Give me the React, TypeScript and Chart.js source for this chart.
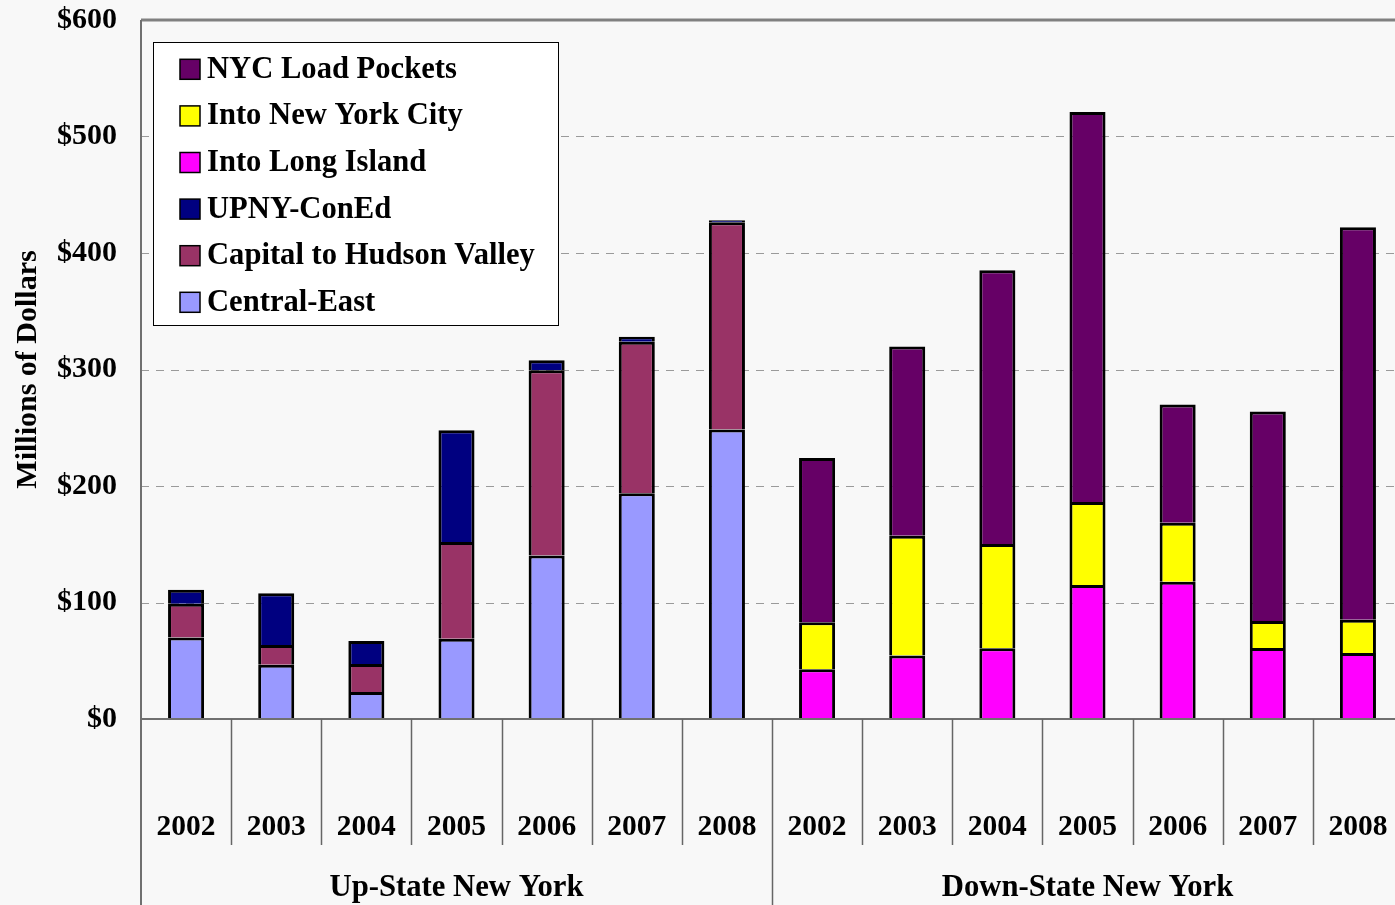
import React, { useEffect, useRef } from "react";
import { Chart, registerables } from "chart.js";

Chart.register(...registerables);

const categories = ["2002", "2003", "2004", "2005", "2006", "2007", "2008", "2002", "2003", "2004", "2005", "2006", "2007", "2008"];
const groupLabels = ["Up-State New York", "Down-State New York"];
const groupSizes = [7, 7];
const yTicks = [0, 100, 200, 300, 400, 500, 600];

const centralEast = [70, 46.5, 23.2, 68.8, 140.4, 193.7, 248.4, null, null, null, null, null, null, null];
const capitalHudson = [29, 17, 24, 83.1, 159, 130.1, 178, null, null, null, null, null, null, null];
const upnyConEd = [12, 44.5, 19.8, 95.9, 8.6, 4.3, 1.7, null, null, null, null, null, null, null];
const intoLongIsland = [null, null, null, null, null, null, null, 42.7, 54.4, 60.8, 115, 117.8, 61, 56.7];
const intoNYC = [null, null, null, null, null, null, null, 40.4, 102.9, 89.4, 71.3, 50.7, 23.2, 28.4];
const nycLoadPockets = [null, null, null, null, null, null, null, 141, 162.5, 234.9, 334.7, 101.4, 179.7, 336.9];

const seriesNames = ["Central-East", "Capital to Hudson Valley", "UPNY-ConEd", "Into Long Island", "Into New York City", "NYC Load Pockets"];
const seriesColors = ["#9999ff", "#993366", "#000080", "#ff00ff", "#ffff00", "#660066"];
const seriesData = [centralEast, capitalHudson, upnyConEd, intoLongIsland, intoNYC, nycLoadPockets];

const FONT = "'Liberation Serif', 'Times New Roman', serif";

const customPlugin = {
  id: "custom",
  beforeDraw(chart: any) {
    const ctx = chart.ctx;
    ctx.save();
    ctx.fillStyle = "#f8f8f8";
    ctx.fillRect(0, 0, chart.width, chart.height);
    ctx.restore();
  },
  beforeDatasetsDraw(chart: any) {
    const ctx = chart.ctx;
    const y = chart.scales.y;
    const area = chart.chartArea;
    ctx.save();
    ctx.strokeStyle = "#9a9a9a";
    ctx.lineWidth = 1;
    ctx.setLineDash([8, 7]);
    for (const v of yTicks) {
      if (v === 0 || v === 600) continue;
      const py = Math.round(y.getPixelForValue(v)) + 0.5;
      ctx.beginPath();
      ctx.moveTo(area.left, py);
      ctx.lineTo(area.right, py);
      ctx.stroke();
    }
    ctx.setLineDash([]);
    ctx.strokeStyle = "#808080";
    ctx.lineWidth = 3;
    const top = y.getPixelForValue(600);
    ctx.beginPath();
    ctx.moveTo(area.left, top);
    ctx.lineTo(area.right, top);
    ctx.stroke();
    ctx.restore();
  },
  afterDraw(chart: any) {
    const ctx = chart.ctx;
    const x = chart.scales.x;
    const area = chart.chartArea;
    ctx.save();
    // axes
    ctx.strokeStyle = "#707070";
    ctx.lineWidth = 2;
    ctx.beginPath();
    ctx.moveTo(area.left, area.top);
    ctx.lineTo(area.left, chart.height);
    ctx.stroke();
    ctx.beginPath();
    ctx.moveTo(area.left, area.bottom);
    ctx.lineTo(area.right, area.bottom);
    ctx.stroke();

    // category separators and labels
    const n = categories.length;
    const step = (area.right - area.left) / n;
    ctx.lineWidth = 1.5;
    ctx.strokeStyle = "#666666";
    const groupEnds: number[] = [];
    let acc = 0;
    for (const s of groupSizes) {
      acc += s;
      groupEnds.push(acc);
    }
    for (let i = 1; i < n; i++) {
      const px = Math.round(x.getPixelForValue(i) - step / 2) + 0.5;
      const isGroup = groupEnds.includes(i);
      ctx.beginPath();
      ctx.moveTo(px, area.bottom);
      ctx.lineTo(px, isGroup ? chart.height : area.bottom + 126);
      ctx.stroke();
    }
    ctx.fillStyle = "#000";
    ctx.font = `bold 29.5px ${FONT}`;
    ctx.textAlign = "center";
    ctx.textBaseline = "alphabetic";
    for (let i = 0; i < n; i++) {
      ctx.fillText(categories[i], x.getPixelForValue(i), area.bottom + 116);
    }
    ctx.font = `bold 30.7px ${FONT}`;
    let start = 0;
    groupSizes.forEach((s, gi) => {
      const l = x.getPixelForValue(start) - step / 2;
      const r = x.getPixelForValue(start + s - 1) + step / 2;
      ctx.fillText(groupLabels[gi], (l + r) / 2, area.bottom + 177);
      start += s;
    });

    // y title
    ctx.font = `bold 30px ${FONT}`;
    ctx.save();
    ctx.translate(36, (area.top + area.bottom) / 2);
    ctx.rotate(-Math.PI / 2);
    ctx.textAlign = "center";
    ctx.fillText("Millions of Dollars", 0, 0);
    ctx.restore();

    // legend
    const lx = 153.5, ly = 42.5, lw = 405, lh = 283;
    ctx.fillStyle = "#ffffff";
    ctx.fillRect(lx, ly, lw, lh);
    ctx.strokeStyle = "#000";
    ctx.lineWidth = 1;
    ctx.strokeRect(lx, ly, lw, lh);
    ctx.font = `bold 30.6px ${FONT}`;
    ctx.textAlign = "left";
    for (let k = 0; k < seriesNames.length; k++) {
      const idx = seriesNames.length - 1 - k;
      const cy = 69.3 + k * 46.6;
      ctx.fillStyle = seriesColors[idx];
      ctx.fillRect(180, cy - 10, 20, 20);
      ctx.strokeStyle = "#000";
      ctx.lineWidth = 1.5;
      ctx.strokeRect(180, cy - 10, 20, 20);
      ctx.fillStyle = "#000";
      ctx.fillText(seriesNames[idx], 207, cy + 8.5);
    }
    ctx.restore();
  },
};

export default function App() {
  const ref = useRef<HTMLCanvasElement>(null);
  useEffect(() => {
    document.body.style.margin = "0";
    document.body.style.overflow = "hidden";
    document.documentElement.style.overflow = "hidden";
    const canvas = ref.current!;
    const chart = new Chart(canvas, {
      type: "bar",
      data: {
        labels: categories,
        datasets: seriesData.map((d, i) => ({
          label: seriesNames[i],
          data: d as any,
          backgroundColor: seriesColors[i],
          borderColor: "#000000",
          borderWidth: 3,
          borderSkipped: "start",
          categoryPercentage: 0.8,
          barPercentage: 0.5,
        })),
      },
      options: {
        responsive: false,
        animation: false,
        devicePixelRatio: 1,
        layout: { padding: { top: 20, right: 0, left: 0, bottom: 0 } },
        plugins: { legend: { display: false }, tooltip: { enabled: false } },
        scales: {
          x: {
            stacked: true,
            grid: { display: false, drawTicks: false },
            border: { display: false },
            ticks: { display: false },
            afterFit: (s: any) => {
              s.height = 186;
              s.paddingLeft = 0;
              s.paddingRight = 0;
            },
          },
          y: {
            stacked: true,
            min: 0,
            max: 600,
            grid: { display: false, drawTicks: false },
            border: { display: false },
            ticks: {
              stepSize: 100,
              padding: 24,
              color: "#000",
              font: { family: FONT, size: 30, weight: "bold" },
              callback: (v: any) => "$" + v,
            },
            afterFit: (s: any) => {
              s.width = 141;
              s.paddingTop = 0;
              s.paddingBottom = 0;
            },
          },
        },
      },
      plugins: [customPlugin],
    });
    return () => chart.destroy();
  }, []);
  return (
    <div style={{ position: "fixed", left: 0, top: 0, width: 1403, height: 905 }}>
      <canvas ref={ref} width={1403} height={905} style={{ width: 1403, height: 905, display: "block" }} />
    </div>
  );
}
